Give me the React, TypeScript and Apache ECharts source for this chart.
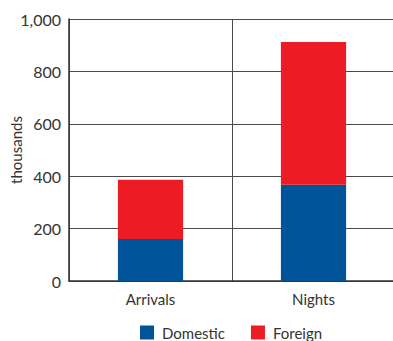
import React, { useEffect, useRef } from "react";
import * as echarts from "echarts";

const categories = ["Arrivals", "Nights"];
const domestic = [160, 367];
const foreign = [226, 545];
const yTicks = [0, 200, 400, 600, 800, 1000];

export default function App() {
  const ref = useRef<HTMLDivElement>(null);
  useEffect(() => {
    document.body.style.margin = "0";
    const chart = echarts.init(ref.current!, null, { renderer: "svg" });
    const font = "Lato";
    chart.setOption({
      animation: false,
      grid: { left: 69, top: 19, width: 326, height: 262, containLabel: false, outerBoundsMode: "none" },
      legend: {
        data: ["Domestic", "Foreign"],
        left: 140,
        top: 325,
        padding: 0,
        itemWidth: 14,
        itemHeight: 14,
        itemGap: 26,
        icon: "rect",
        textStyle: { fontFamily: font, fontSize: 15, color: "#333", padding: [0, 0, 0, 3] },
      },
      xAxis: {
        type: "category",
        data: categories,
        axisLine: { show: true, lineStyle: { color: "#333", width: 1.5 } },
        axisTick: { show: false },
        axisLabel: { fontFamily: font, fontSize: 15, color: "#333", margin: 10 },
        splitLine: { show: true, lineStyle: { color: "#4a4a4a", width: 1 } },
      },
      yAxis: {
        type: "value",
        min: 0,
        max: 1000,
        interval: 200,
        name: "thousands",
        nameLocation: "middle",
        nameGap: 46,
        nameMoveOverlap: false,
        nameTextStyle: { fontFamily: font, fontSize: 15, color: "#333" },
        axisLine: { show: true, lineStyle: { color: "#333", width: 1.5 } },
        axisTick: { show: false },
        axisLabel: {
          fontFamily: font,
          fontSize: 16,
          color: "#333",
          margin: 8,
          formatter: (v: number) => (yTicks.includes(v) ? v.toLocaleString("en-US") : ""),
        },
        splitLine: { show: true, lineStyle: { color: "#4a4a4a", width: 1 } },
      },
      series: [
        {
          name: "Domestic",
          type: "bar",
          stack: "total",
          data: domestic,
          barWidth: "40%",
          itemStyle: { color: "#00559A" },
        },
        {
          name: "Foreign",
          type: "bar",
          stack: "total",
          data: foreign,
          barWidth: "40%",
          itemStyle: { color: "#ED1C24" },
        },
      ],
    });
    return () => chart.dispose();
  }, []);
  return <div ref={ref} style={{ width: 393, height: 341 }} />;
}
